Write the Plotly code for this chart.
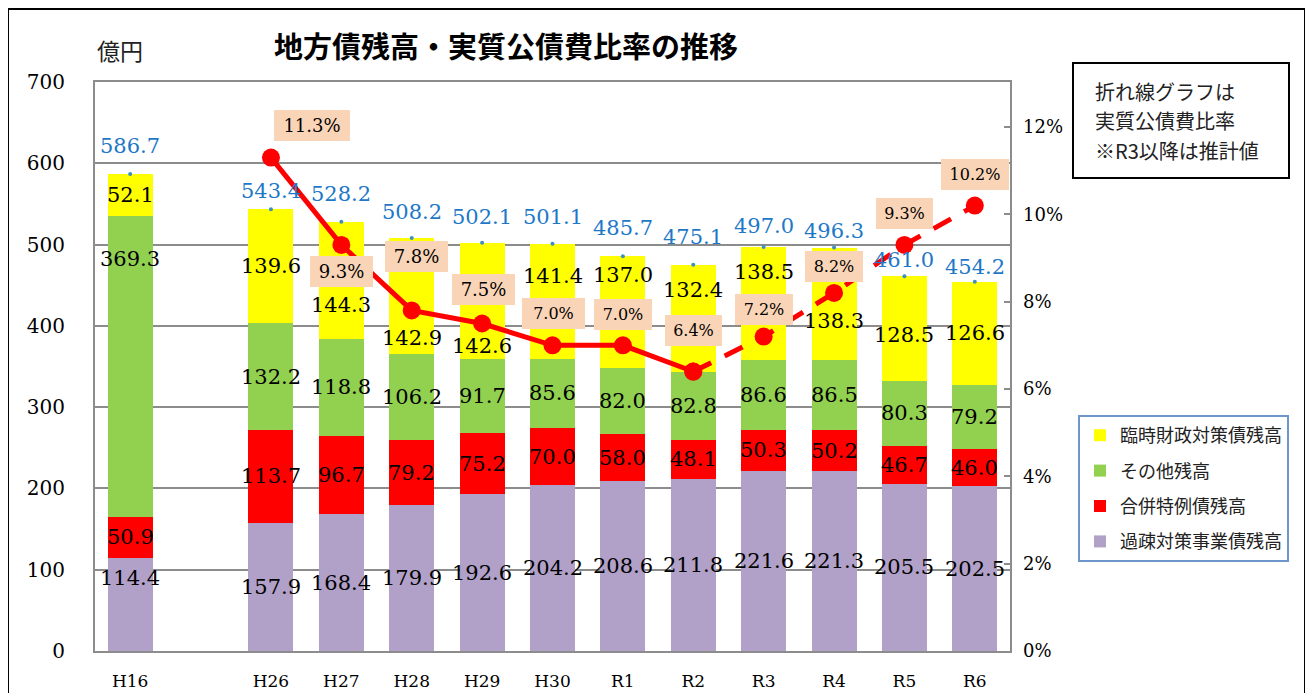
import plotly.graph_objects as go

# ---------------- data ----------------
categories = ["H16", "H26", "H27", "H28", "H29", "H30", "R1", "R2", "R3", "R4", "R5", "R6"]
gap_label = "\u3000"  # empty slot between H16 and H26

kaso = [114.4, 157.9, 168.4, 179.9, 192.6, 204.2, 208.6, 211.8, 221.6, 221.3, 205.5, 202.5]      # 過疎対策事業債残高
gappei = [50.9, 113.7, 96.7, 79.2, 75.2, 70.0, 58.0, 48.1, 50.3, 50.2, 46.7, 46.0]               # 合併特例債残高
sonota = [369.3, 132.2, 118.8, 106.2, 91.7, 85.6, 82.0, 82.8, 86.6, 86.5, 80.3, 79.2]            # その他残高
rinji = [52.1, 139.6, 144.3, 142.9, 142.6, 141.4, 137.0, 132.4, 138.5, 138.3, 128.5, 126.6]      # 臨時財政対策債残高
totals = [586.7, 543.4, 528.2, 508.2, 502.1, 501.1, 485.7, 475.1, 497.0, 496.3, 461.0, 454.2]

ratio_categories = ["H26", "H27", "H28", "H29", "H30", "R1", "R2", "R3", "R4", "R5", "R6"]
ratio = [11.3, 9.3, 7.8, 7.5, 7.0, 7.0, 6.4, 7.2, 8.2, 9.3, 10.2]   # 実質公債費比率 (%)
last_actual = "R2"   # R3以降は推計値 (dashed)

ratio_ticks = [0, 2, 4, 6, 8, 10, 12]
ratio_tick_text = ["0%", "2%", "4%", "6%", "8%", "10%", "12%"]

series_names = ["過疎対策事業債残高", "合併特例債残高", "その他残高", "臨時財政対策債残高"]
series_values = [kaso, gappei, sonota, rinji]

# ---------------- styles ----------------
series_colors = ["#B1A0C7", "#FF0000", "#92D050", "#FFFF00"]
legend_ranks = [4, 3, 2, 1]
NUM_FONT = "DejaVu Serif"
JP_FONT = "Noto Sans CJK JP"
GRID = "#8C8C8C"
TOTAL_BLUE = "#1E78C8"
PCT_BG = "#FAD4B6"

# label pixel adjustments (style only)
seg_label_shift = [
    [27, 0, 0, 0, 0, 0, 0, 0, 0, 0, 0, 0],            # purple
    [0, 0, 0, 0, 0, 0, 0, 0, 0, 0, 0, 0],             # red
    [108, 0, 0, 0, 0, 0, 0, 0, 0, 0, 0, 0],           # green
    [0, 0, -25, -42, -45, 25, 37, 29, 31, -17, -6, 0],  # yellow
]
total_label_shift = [28, 18, 28, 26, 26, 27, 28, 28, 21, 17, 16, 15]
pct_xshift = [41, 0, 5, 1, 1, 0, 0, 0, 0, 0, 0]
pct_yshift = [32, -27, 54, 34, 32, 31, 41, 27, 26, 31, 31]
pct_font = [18, 18, 18, 18, 16, 16, 16, 16, 16, 16, 16]
pct_box_w = [76, 63, 63, 63, 63, 58, 57, 58, 58, 57, 68]

axis_categories = categories[:1] + [gap_label] + categories[1:]

fig = go.Figure()

# stacked bars
for name, vals, col, rank in zip(series_names, series_values, series_colors, legend_ranks):
    fig.add_trace(go.Bar(
        x=categories, y=vals, name=name, marker=dict(color=col, line=dict(width=0)),
        legendgroup=name, legendrank=rank, hoverinfo="skip",
    ))

# tiny markers at bar tops
fig.add_trace(go.Scatter(
    x=categories, y=totals, mode="markers", showlegend=False,
    marker=dict(size=4, color="#3D8FC0"), hoverinfo="skip",
))

# ratio line: actual (solid) and estimated (dashed)
split = ratio_categories.index(last_actual)
fig.add_trace(go.Scatter(
    x=ratio_categories[:split + 1], y=ratio[:split + 1], yaxis="y2",
    mode="lines+markers", showlegend=False,
    line=dict(color="#FF0000", width=5),
    marker=dict(size=18, color="#FF0000"), hoverinfo="skip",
))
fig.add_trace(go.Scatter(
    x=ratio_categories[split:], y=ratio[split:], yaxis="y2",
    mode="lines+markers", showlegend=False,
    line=dict(color="#FF0000", width=5, dash="20px,15px"),
    marker=dict(size=18, color="#FF0000"), hoverinfo="skip",
))

annotations = []
# segment labels
bottoms = [0.0] * len(categories)
for si, vals in enumerate(series_values):
    for i, (c, v) in enumerate(zip(categories, vals)):
        mid = bottoms[i] + v / 2
        annotations.append(dict(
            x=c, y=mid, xref="x", yref="y", text=f"{v:.1f}", showarrow=False,
            yshift=seg_label_shift[si][i], yanchor="middle",
            font=dict(family=NUM_FONT, size=21, color="black"),
        ))
        bottoms[i] += v

# totals
for i, (c, t) in enumerate(zip(categories, totals)):
    annotations.append(dict(
        x=c, y=t, xref="x", yref="y", text=f"{t:.1f}", showarrow=False,
        yshift=total_label_shift[i], yanchor="middle",
        font=dict(family=NUM_FONT, size=21, color=TOTAL_BLUE),
    ))

# ratio labels
for i, (c, r) in enumerate(zip(ratio_categories, ratio)):
    pad = 5 if pct_font[i] >= 18 else 6
    annotations.append(dict(
        x=c, y=r, xref="x", yref="y2", text=f"{r:.1f}%", showarrow=False,
        xshift=pct_xshift[i], yshift=pct_yshift[i], yanchor="middle",
        bgcolor=PCT_BG, borderpad=pad, borderwidth=0,
        width=pct_box_w[i] - 2 * pad,
        font=dict(family=NUM_FONT, size=pct_font[i], color="black"),
    ))

# page body has an 8px margin: screen coordinates are offset by OFF
OFF = 8
W, H = 1313, 693
L, R, T, B = 95 - OFF, 303 + OFF, 82 - OFF, 42 + OFF
PW, PH = W - L - R, H - T - B


def px(xs):
    return (xs - OFF - L) / PW


def py(ys):
    return (H - B - (ys - OFF)) / PH


# title & unit
annotations.append(dict(
    x=px(506), y=py(45), xref="paper", yref="paper", text="<b>地方債残高・実質公債費比率の推移</b>",
    showarrow=False, xanchor="center", yanchor="middle",
    font=dict(family=JP_FONT, size=29, color="black"),
))
annotations.append(dict(
    x=px(120), y=py(50), xref="paper", yref="paper", text="億円",
    showarrow=False, xanchor="center", yanchor="middle",
    font=dict(family=JP_FONT, size=23, color="#222222"),
))
# note box text
for txt, yy in zip(["折れ線グラフは", "実質公債費比率", "※R3以降は推計値"], [92, 121, 150]):
    annotations.append(dict(
        x=px(1093), y=py(yy), xref="paper", yref="paper", text=txt,
        showarrow=False, xanchor="left", yanchor="middle",
        font=dict(family=JP_FONT, size=20, color="#222222"),
    ))

shapes = [
    dict(type="rect", xref="paper", yref="paper", x0=px(8), x1=px(1305), y0=py(720), y1=py(9),
         line=dict(color="black", width=2), fillcolor="rgba(0,0,0,0)", layer="below"),
    dict(type="rect", xref="paper", yref="paper", x0=px(1073), x1=px(1289), y0=py(178), y1=py(63),
         line=dict(color="black", width=2), fillcolor="white"),
]

fig.update_layout(
    width=W, height=H, autosize=False,
    margin=dict(l=L, r=R, t=T, b=B, pad=0, autoexpand=False),
    barmode="stack", bargap=0.36,
    plot_bgcolor="white", paper_bgcolor="white",
    showlegend=True,
    legend=dict(
        x=px(1078), y=py(415), xanchor="left", yanchor="top",
        traceorder="grouped", tracegroupgap=9,
        bgcolor="white", bordercolor="#6F95CD", borderwidth=2,
        font=dict(family=JP_FONT, size=18, color="#222222"),
        itemwidth=30,
    ),
    xaxis=dict(
        type="category", categoryorder="array", categoryarray=axis_categories,
        range=[-0.5, len(axis_categories) - 0.5], automargin=False,
        showline=True, mirror=True, linecolor=GRID, linewidth=2,
        ticks="", showgrid=False, ticklabelstandoff=14,
        tickfont=dict(family=NUM_FONT, size=17, color="black"),
    ),
    yaxis=dict(
        range=[0, 700], dtick=100, showgrid=True, gridcolor=GRID, gridwidth=2,
        showline=True, mirror=True, linecolor=GRID, linewidth=2, zeroline=False,
        ticks="", ticklabelstandoff=24, automargin=False,
        tickfont=dict(family=NUM_FONT, size=20, color="black"),
    ),
    yaxis2=dict(
        overlaying="y", side="right", range=[0, 12 * PH / 524],
        tickmode="array", tickvals=ratio_ticks, ticktext=ratio_tick_text,
        showgrid=False, zeroline=False, showline=False, automargin=False,
        ticks="inside", ticklen=6, tickcolor=GRID, tickwidth=2,
        ticklabelstandoff=12,
        tickfont=dict(family=NUM_FONT, size=18, color="black"),
    ),
    annotations=annotations,
    shapes=shapes,
)

fig.write_html("out.html")
